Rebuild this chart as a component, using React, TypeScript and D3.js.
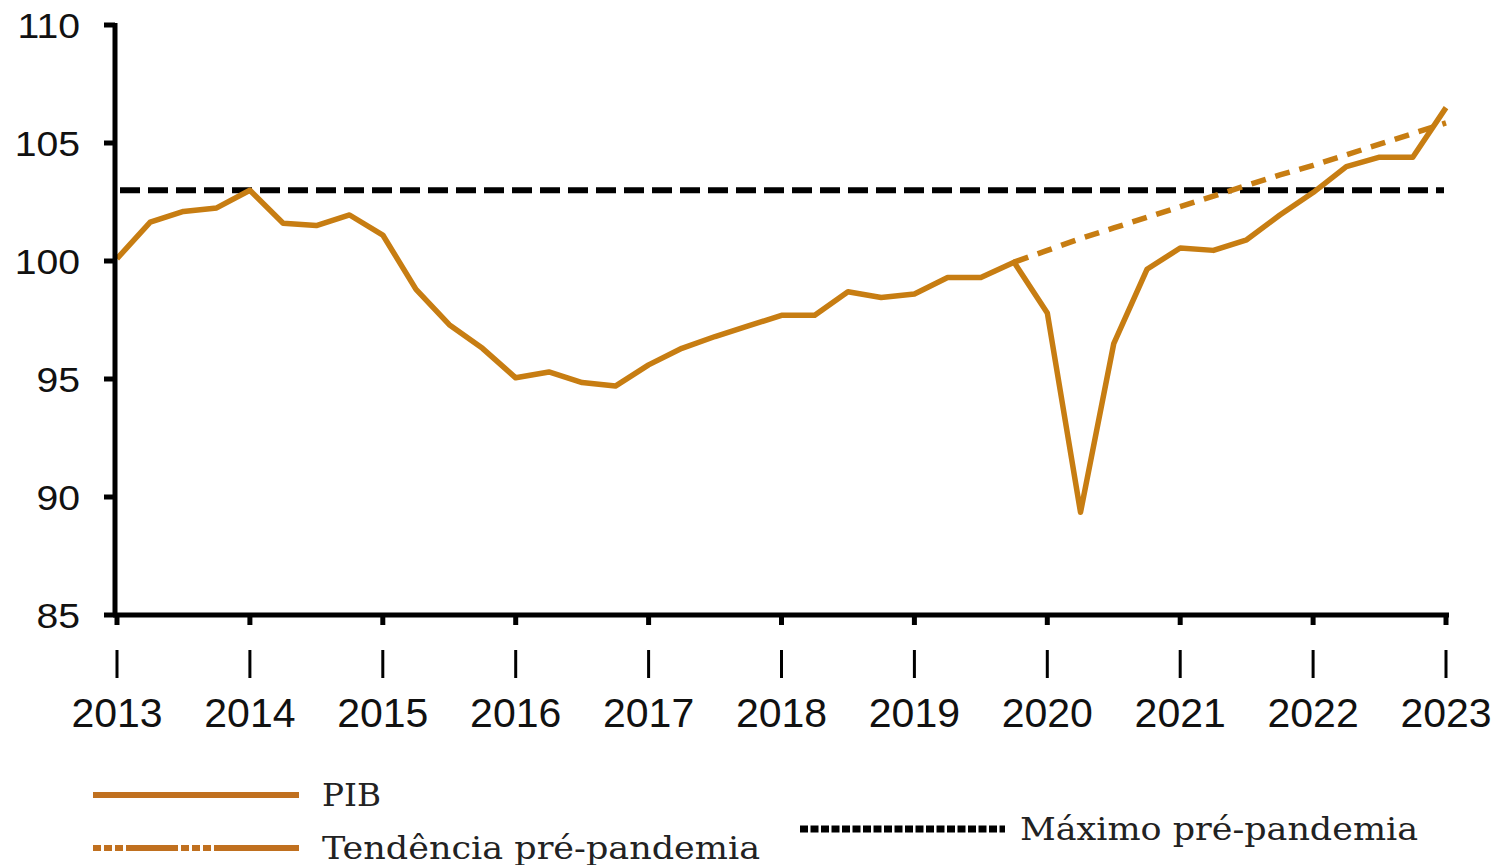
import React from "react";
import * as d3 from "d3";

const pibValues: number[] = [
  100.1, 101.65, 102.1, 102.25, 103.0, 101.6, 101.5, 101.95,
  101.1, 98.8, 97.3, 96.3, 95.05, 95.3, 94.85, 94.7,
  95.6, 96.3, 96.8, 97.25, 97.7, 97.7, 98.7, 98.45,
  98.6, 99.3, 99.3, 99.95, 97.8, 89.35, 96.5, 99.65,
  100.55, 100.45, 100.9, 101.95, 102.9, 104.0, 104.4, 104.4,
  106.5,
];
const trendStartIndex = 27;
const trendValues: number[] = [
  99.95, 100.45, 100.95, 101.4, 101.85, 102.3, 102.75, 103.2,
  103.65, 104.05, 104.5, 104.95, 105.4, 105.85,
];
const preCovidMax = 103.0;
const yearTicks: number[] = [2013, 2014, 2015, 2016, 2017, 2018, 2019, 2020, 2021, 2022, 2023];
const yTicks: number[] = [85, 90, 95, 100, 105, 110];
const legendLabels = { pib: "PIB", trend: "Tendência pré-pandemia", max: "Máximo pré-pandemia" };

const ORANGE = "#C77D12";
const LEGEND_ORANGE = "#C0701F";

export default function App() {
  const W = 1498;
  const H = 865;
  const x = d3.scaleLinear().domain([2013, 2023]).range([117, 1446]);
  const y = d3.scaleLinear().domain([85, 110]).range([615, 25]);
  const tOf = (i: number) => 2013 + i / 4;

  const line = d3
    .line<[number, number]>()
    .x((d) => x(d[0]))
    .y((d) => y(d[1]));

  const pibPts: [number, number][] = pibValues.map((v, i) => [tOf(i), v]);
  const trendPts: [number, number][] = trendValues.map((v, i) => [tOf(i + trendStartIndex), v]);

  const axisFont = "'Liberation Sans', Arial, sans-serif";
  const legendFont = "'DejaVu Serif', serif";

  return (
    <svg width={W} height={H} style={{ position: "absolute", left: 0, top: 0, background: "#fff" }}>
      {/* max pre-pandemic line */}
      <line
        x1={x(2013) + 3}
        x2={x(2023) - 2}
        y1={y(preCovidMax)}
        y2={y(preCovidMax)}
        stroke="#000"
        strokeWidth={6}
        strokeDasharray="20,8"
      />
      {/* trend */}
      <path
        d={line(trendPts) || ""}
        fill="none"
        stroke={ORANGE}
        strokeWidth={5.5}
        strokeDasharray="15,10"
      />
      {/* PIB */}
      <path
        d={line(pibPts) || ""}
        fill="none"
        stroke={ORANGE}
        strokeWidth={5.5}
        strokeLinejoin="round"
      />

      {/* y axis */}
      <line x1={115} x2={115} y1={y(110) - 2} y2={y(85) + 2} stroke="#000" strokeWidth={5} />
      {yTicks.map((t) => (
        <g key={t}>
          <line x1={104} x2={115} y1={y(t)} y2={y(t)} stroke="#000" strokeWidth={5} />
          <g transform={`translate(80, ${y(t)}) scale(1.12, 1)`}>
            <text textAnchor="end" dy="0.36em" fontFamily={axisFont} fontSize={35} fill="#111">
              {t}
            </text>
          </g>
        </g>
      ))}

      {/* x axis */}
      <line x1={113} x2={1449} y1={615} y2={615} stroke="#000" strokeWidth={5} />
      {yearTicks.map((yr) => (
        <g key={yr}>
          <line x1={x(yr)} x2={x(yr)} y1={613} y2={625} stroke="#000" strokeWidth={5} />
          <line x1={x(yr)} x2={x(yr)} y1={650} y2={678} stroke="#000" strokeWidth={3} />
          <text
            x={x(yr)}
            y={727}
            textAnchor="middle"
            fontFamily={axisFont}
            fontSize={41}
            fill="#111"
          >
            {yr}
          </text>
        </g>
      ))}

      {/* legend */}
      <line x1={93} x2={299} y1={795} y2={795} stroke={LEGEND_ORANGE} strokeWidth={6} />
      <text x={322} y={806} fontFamily={legendFont} fontSize={31} fill="#222" textLength={59} lengthAdjust="spacingAndGlyphs">
        {legendLabels.pib}
      </text>
      <line
        x1={93}
        x2={299}
        y1={848}
        y2={848}
        stroke={LEGEND_ORANGE}
        strokeWidth={6}
        strokeDasharray="8,3,8,3,8,3,52,3,8,3,8,3,8,3,200"
      />
      <text x={322} y={859} fontFamily={legendFont} fontSize={31} fill="#222" textLength={438} lengthAdjust="spacingAndGlyphs">
        {legendLabels.trend}
      </text>
      <line
        x1={800}
        x2={1005}
        y1={829}
        y2={829}
        stroke="#000"
        strokeWidth={7}
        strokeDasharray="8,2.5"
      />
      <text x={1020} y={840} fontFamily={legendFont} fontSize={31} fill="#222" textLength={398} lengthAdjust="spacingAndGlyphs">
        {legendLabels.max}
      </text>
    </svg>
  );
}
